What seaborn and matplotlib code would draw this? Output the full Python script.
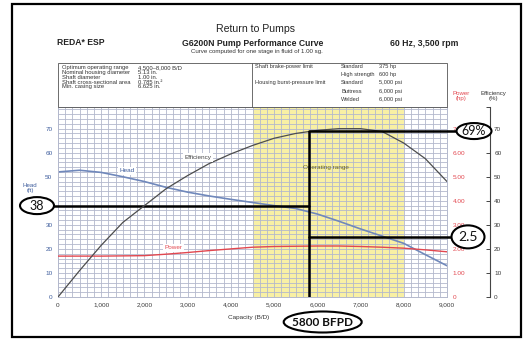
import numpy as np
import pandas as pd
import matplotlib
matplotlib.use("Agg")
import matplotlib.pyplot as plt
import seaborn as sns
from matplotlib.patches import Ellipse, Rectangle
from matplotlib.lines import Line2D

# ---- pump curve data -------------------------------------------------------
capacity = [0, 500, 1000, 1500, 2000, 2500, 3000, 3500, 4000, 4500,
            5000, 5500, 6000, 6500, 7000, 7500, 8000, 8500, 9000]
head_ft = [52.0, 52.7, 51.8, 50.0, 48.0, 45.6, 43.6, 42.0, 40.6, 39.3,
           38.0, 36.8, 34.5, 31.5, 28.3, 25.3, 22.3, 17.6, 13.0]
efficiency_pct = [0.0, 11.0, 21.5, 31.0, 38.0, 45.0, 50.5, 55.5, 59.5, 63.0,
                  66.0, 68.0, 69.3, 70.0, 70.0, 68.8, 64.0, 57.5, 48.0]
power_hp = [1.70, 1.70, 1.70, 1.71, 1.72, 1.78, 1.85, 1.93, 2.00, 2.07,
            2.10, 2.11, 2.12, 2.12, 2.10, 2.07, 2.03, 1.96, 1.88]

operating_range = [4500, 8000]

# selected operating point
op_rate = 5800
op_head = 38
op_eff = 69
op_power = 2.5

x_ticks = [0, 1000, 2000, 3000, 4000, 5000, 6000, 7000, 8000, 9000]
x_labels = ["0", "1,000", "2,000", "3,000", "4,000", "5,000", "6,000", "7,000", "8,000", "9,000"]
head_ticks = [0, 10, 20, 30, 40, 50, 60, 70]
power_ticks = [0, 1, 2, 3, 4, 5, 6, 7]
power_labels = ["0", "1.00", "2.00", "3.00", "4.00", "5.00", "6.00", "7.00"]
eff_ticks = [0, 10, 20, 30, 40, 50, 60, 70]

df = pd.DataFrame({"capacity": capacity, "head": head_ft,
                   "efficiency": efficiency_pct, "power": power_hp})

# ---- style ------------------------------------------------------------------
sns.set_style("white")
NARROW = ["Liberation Sans Narrow", "Liberation Sans", "DejaVu Sans"]
plt.rcParams["font.family"] = NARROW

W, H = 525, 340
fig = plt.figure(figsize=(W / 100, H / 100), dpi=100)

def fx(x):
    return x / W

def fy(y):
    return 1 - y / H

HEAD_C = "#7088bb"
EFF_C = "#4d4d4d"
POW_C = "#e2474f"
GRID_C = "#b3b8cc"
YELLOW = "#f8f0a4"

L, R, T, B = 58, 447, 107, 297
ax = fig.add_axes([fx(L), fy(B), (R - L) / W, (B - T) / H])
ax.set_xlim(0, 9000)
ax.set_ylim(0, 79)

ax.axvspan(*operating_range, color=YELLOW, lw=0, zorder=0)

ax.set_xticks(x_ticks)
ax.set_xticklabels(x_labels)
ax.set_xticks(np.linspace(0, 9000, 55), minor=True)
ax.set_yticks(head_ticks)
ax.set_yticks(np.arange(0, 80, 2), minor=True)
ax.grid(which="both", color=GRID_C, lw=0.6)
ax.tick_params(which="both", length=0)
ax.tick_params(axis="x", labelsize=4.6, labelcolor="#3a3a3a", pad=4)
ax.tick_params(axis="y", labelsize=4.6, labelcolor="#3d5c9c", pad=4)
for s in ax.spines.values():
    s.set_color(GRID_C)
    s.set_linewidth(0.7)

sns.lineplot(data=df, x="capacity", y="head", ax=ax, color=HEAD_C, lw=1.2)
ax.set_xlabel("")
ax.set_ylabel("")

# power axis (labels only, red)
axp = ax.twinx()
axp.set_ylim(0, 7.9)
axp.set_yticks(power_ticks)
axp.set_yticklabels(power_labels)
axp.tick_params(length=0, labelsize=4.6, labelcolor=POW_C, pad=4)
for s in axp.spines.values():
    s.set_visible(False)
sns.lineplot(data=df, x="capacity", y="power", ax=axp, color=POW_C, lw=1.0)
axp.set_xlabel("")
axp.set_ylabel("")

# efficiency axis (offset spine)
axe = ax.twinx()
axe.set_ylim(0, 79)
for name, s in axe.spines.items():
    s.set_visible(name == "right")
axe.spines["right"].set_position(("axes", (490 - L) / (R - L)))
axe.spines["right"].set_color("#444444")
axe.spines["right"].set_linewidth(0.8)
axe.set_yticks(eff_ticks)
axe.set_yticks([79], minor=True)
axe.tick_params(which="both", direction="in", length=3, width=0.7, color="#444444",
                labelsize=4.6, labelcolor="#3a3a3a", pad=3)
sns.lineplot(data=df, x="capacity", y="efficiency", ax=axe, color=EFF_C, lw=0.9)
axe.set_xlabel("")
axe.set_ylabel("")

# curve captions
box = dict(boxstyle="square,pad=0.25", fc="white", ec="none")
ax.text(1600, 52.4, "Head", fontsize=4.6, color="#3d5c9c", ha="center", va="center", bbox=box, zorder=5)
axe.text(3230, 58, "Efficiency", fontsize=4.6, color="#444444", ha="center", va="center", bbox=box, zorder=5)
axp.text(2680, 2.05, "Power", fontsize=4.6, color=POW_C, ha="center", va="center", bbox=box, zorder=5)
ax.text(6200, 53.8, "Operating range", fontsize=4.6, color="#6b6622", ha="center", va="center", zorder=5)

# operating-point guide lines
LW = 1.8
axe.plot([op_rate, op_rate], [0, op_eff], color="black", lw=LW, zorder=6, solid_capstyle="butt")
axe.plot([op_rate, 9230], [op_eff, op_eff], color="black", lw=LW, zorder=6, clip_on=False)
axp.plot([op_rate, 9100], [op_power, op_power], color="black", lw=LW, zorder=6, clip_on=False)
ax.plot([-200, op_rate], [op_head, op_head], color="black", lw=LW, zorder=6, clip_on=False)

# ---- header -----------------------------------------------------------------
fig.text(fx(256), fy(29), "Return to Pumps", fontsize=7.6, ha="center", va="center", color="#222222")
fig.text(fx(57), fy(42.5), "REDA* ESP", fontsize=6.2, fontweight="bold", ha="left", va="center", color="#222222")
fig.text(fx(253), fy(43), "G6200N Pump Performance Curve", fontsize=6.2, fontweight="bold",
         ha="center", va="center", color="#222222")
fig.text(fx(257), fy(52), "Curve computed for one stage in fluid of 1.00 sg.", fontsize=4.4,
         ha="center", va="center", color="#333333")
fig.text(fx(390), fy(43), "60 Hz, 3,500 rpm", fontsize=6.2, fontweight="bold", ha="left", va="center",
         color="#222222")

# spec boxes
fig.add_artist(Rectangle((fx(L), fy(T)), (R - L) / W, (T - 63) / H, transform=fig.transFigure,
                         fill=False, ec="#555555", lw=0.6))
fig.add_artist(Line2D([fx(252), fx(252)], [fy(63), fy(T)], transform=fig.transFigure,
                      color="#555555", lw=0.6))

left_keys = ["Optimum operating range", "Nominal housing diameter", "Shaft diameter",
             "Shaft cross-sectional area", "Min. casing size"]
left_vals = ["4,500\u20138,000 B/D", "5.13 in.", "1.00 in.", "0.785 in.\u00b2", "6.625 in."]
for i, (k, v) in enumerate(zip(left_keys, left_vals)):
    yy = 68 + i * 4.7
    fig.text(fx(62), fy(yy), k, fontsize=4.2, ha="left", va="center", color="#333333")
    fig.text(fx(138), fy(yy), v, fontsize=4.2, ha="left", va="center", color="#333333")

right_rows = [("Shaft brake-power limit", "Standard", "375 hp"),
              ("", "High strength", "600 hp"),
              ("Housing burst-pressure limit", "Standard", "5,000 psi"),
              ("", "Buttress", "6,000 psi"),
              ("", "Welded", "6,000 psi")]
for i, (a, b, c) in enumerate(right_rows):
    yy = 66.5 + i * 8.2
    if a:
        fig.text(fx(255), fy(yy), a, fontsize=4.1, ha="left", va="center", color="#333333")
    fig.text(fx(341), fy(yy), b, fontsize=4.1, ha="left", va="center", color="#333333")
    fig.text(fx(379), fy(yy), c, fontsize=4.1, ha="left", va="center", color="#333333")

# axis titles
fig.text(fx(461), fy(96), "Power\n(hp)", fontsize=4.4, color=POW_C, ha="center", va="center", linespacing=1.1)
fig.text(fx(493), fy(96), "Efficiency\n(%)", fontsize=4.4, color="#333333", ha="center", va="center",
         linespacing=1.1)
fig.text(fx(30), fy(188), "Head\n(ft)", fontsize=4.4, color="#3d5c9c", ha="center", va="center",
         linespacing=1.0)
fig.text(fx(249), fy(317), "Capacity (B/D)", fontsize=4.6, color="#333333", ha="center", va="center")

# outer frame
fig.add_artist(Rectangle((fx(12), fy(337)), (521 - 12) / W, (337 - 3.5) / H, transform=fig.transFigure,
                         fill=False, ec="black", lw=1.6))

# ---- call-out ovals ---------------------------------------------------------
def oval(axis, xpix, yval, w, h, label, size):
    _, ydisp = axis.transData.transform((0, yval))
    fig.add_artist(Ellipse((xpix / W, ydisp / H), w / W, h / H, transform=fig.transFigure,
                           fc="white", ec="black", lw=1.5, zorder=10))
    fig.text(xpix / W, ydisp / H, label, fontsize=size, family=["Lato", "DejaVu Sans"],
             ha="center", va="center", color="#111111", zorder=11)

oval(ax, 37, op_head, 34, 17, "38", 9)
oval(axe, 474, op_eff, 35, 16, f"{op_eff}%", 9)
oval(axp, 468, op_power, 33, 23, f"{op_power}", 10)

xdisp, _ = ax.transData.transform((op_rate, 0))
fig.add_artist(Ellipse(((xdisp + 14) / W, fy(322)), 78 / W, 21 / H, transform=fig.transFigure,
                       fc="white", ec="black", lw=1.5, zorder=10))
fig.text((xdisp + 14) / W, fy(322), f"{op_rate} BFPD", fontsize=8.5, family=["Lato", "DejaVu Sans"],
         fontweight="bold", ha="center", va="center", color="#111111", zorder=11)

fig.savefig("out.png", dpi=100)
